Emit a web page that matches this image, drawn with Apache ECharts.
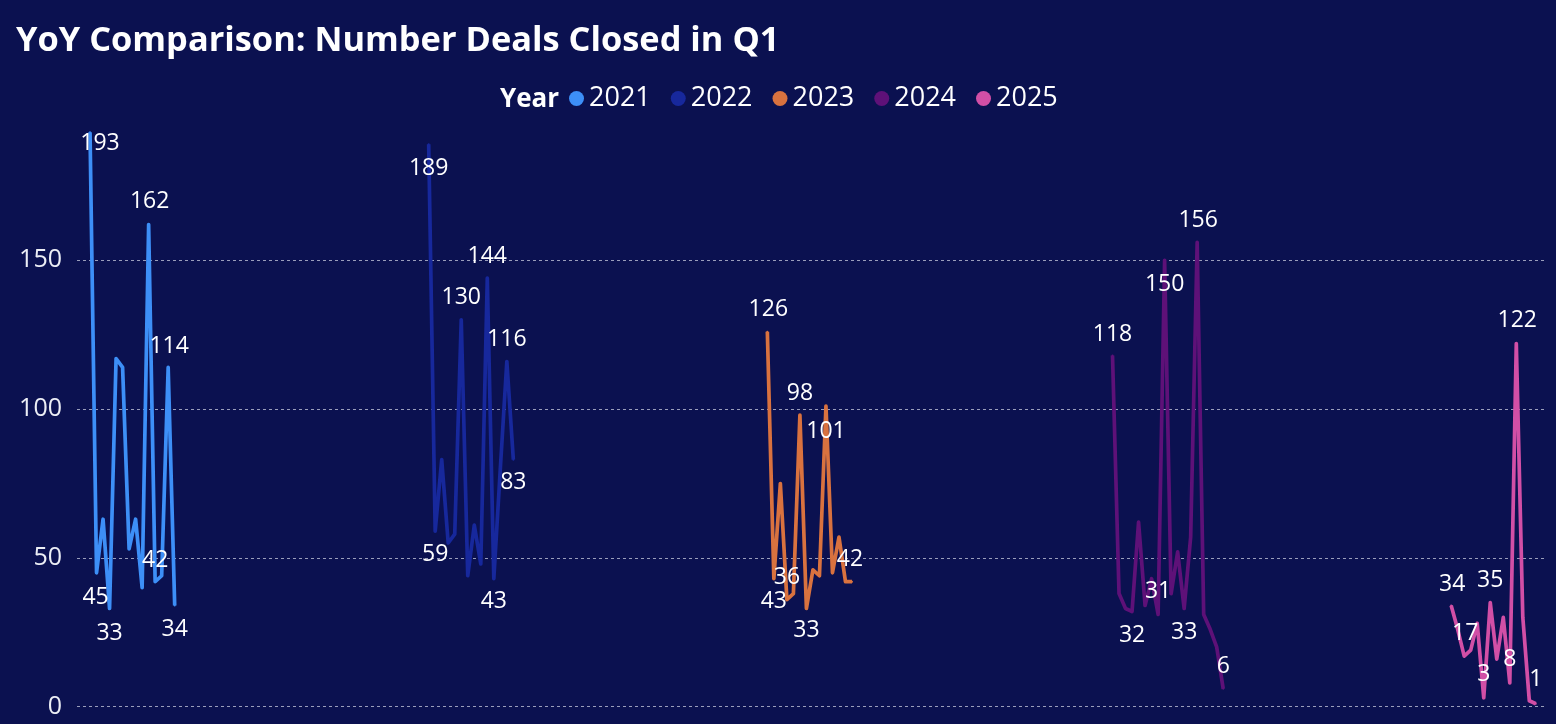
<!DOCTYPE html>
<html>
<head>
<meta charset="utf-8">
<title>YoY Comparison: Number Deals Closed in Q1</title>
<script src="https://cdn.jsdelivr.net/npm/echarts@6/dist/echarts.min.js"></script>
<style>
  html, body { margin: 0; padding: 0; background: #0b1150; }
  #chart { width: 1556px; height: 724px; }
</style>
</head>
<body>
<div id="chart"></div>
<script>
// weekly data points, Q1 of each year
const years = ['2021', '2022', '2023', '2024', '2025'];

const dates2021 = ['2021-01-03', '2021-01-10', '2021-01-17', '2021-01-24', '2021-01-31', '2021-02-07', '2021-02-14',
  '2021-02-21', '2021-02-28', '2021-03-07', '2021-03-14', '2021-03-21', '2021-03-28', '2021-04-04'];
const dates2022 = ['2022-01-02', '2022-01-09', '2022-01-16', '2022-01-23', '2022-01-30', '2022-02-06', '2022-02-13',
  '2022-02-20', '2022-02-27', '2022-03-06', '2022-03-13', '2022-03-20', '2022-03-27', '2022-04-03'];
const dates2023 = ['2023-01-01', '2023-01-08', '2023-01-15', '2023-01-22', '2023-01-29', '2023-02-05', '2023-02-12',
  '2023-02-19', '2023-02-26', '2023-03-05', '2023-03-12', '2023-03-19', '2023-03-26', '2023-04-02'];
const dates2024 = ['2024-01-07', '2024-01-14', '2024-01-21', '2024-01-28', '2024-02-04', '2024-02-11', '2024-02-18',
  '2024-02-25', '2024-03-03', '2024-03-10', '2024-03-17', '2024-03-24', '2024-03-31', '2024-04-07', '2024-04-14',
  '2024-04-21', '2024-04-28', '2024-05-05'];
const dates2025 = ['2025-01-05', '2025-01-12', '2025-01-19', '2025-01-26', '2025-02-02', '2025-02-09', '2025-02-16',
  '2025-02-23', '2025-03-02', '2025-03-09', '2025-03-16', '2025-03-23', '2025-03-30', '2025-04-06'];

const deals2021 = [193, 45, 63, 33, 117, 114, 53, 63, 40, 162, 42, 44, 114, 34];
const deals2022 = [189, 59, 83, 55, 58, 130, 44, 61, 48, 144, 43, 80, 116, 83];
const deals2023 = [126, 43, 75, 36, 38, 98, 33, 46, 44, 101, 45, 57, 42, 42];
const deals2024 = [118, 38, 33, 32, 62, 34, 43, 31, 150, 38, 52, 33, 57, 156, 31, 26, 20, 6];
const deals2025 = [34, 26, 17, 19, 28, 3, 35, 16, 30, 8, 122, 30, 2, 1];

const yTicks = [0, 50, 100, 150];

// which points get a data label: [index, dx, dy] (offset from the point)
const labelSpots = {
  '2021': [[0, 10, 11], [1, -1, 25], [3, 0, 25], [9, 1, -23], [10, 0, -21], [12, 1, -21], [13, 0, 24]],
  '2022': [[0, 0, 24], [1, 0, 23], [5, 0, -22], [9, 0, -22], [10, 0, 23], [12, 0, -22], [13, 0, 23]],
  '2023': [[0, 1, -22], [1, 0, 23], [3, 0, -22], [5, 0, -22], [6, 0, 22], [9, 0, 25], [13, -2, -22]],
  '2024': [[0, 0, -21], [3, 0, 24], [7, 0, -23], [8, 0, 24], [11, 0, 24], [13, 1, -22], [17, 0, -22]],
  '2025': [[0, 1, -21], [2, 1, -23], [5, 0, -23], [6, 0, -22], [9, 0, -23], [10, 1, -23], [13, 0, -24]]
};

const colors = ['#3d8ff7', '#17289c', '#d9723f', '#5e1178', '#d24fa6'];
const allDates = [dates2021, dates2022, dates2023, dates2024, dates2025];
const allDeals = [deals2021, deals2022, deals2023, deals2024, deals2025];

const font = "'Segoe UI', 'Open Sans', sans-serif";

const chart = echarts.init(document.getElementById('chart'));

const series = years.map((y, i) => {
  const spots = {};
  labelSpots[y].forEach(s => { spots[s[0]] = s; });
  const data = allDeals[i].map((v, j) => {
    const item = { value: [allDates[i][j], v] };
    if (spots[j]) {
      item.label = { show: true, position: 'inside', offset: [spots[j][1], spots[j][2]] };
    }
    return item;
  });
  return {
    name: y,
    type: 'line',
    data: data,
    symbol: 'circle',
    symbolSize: 2,
    showSymbol: true,
    lineStyle: { width: 3.7, color: colors[i], join: 'round' },
    itemStyle: { color: colors[i] },
    label: { show: false, color: '#ffffff', fontSize: 23, fontFamily: font },
    emphasis: { disabled: true }
  };
});

const options = {
  backgroundColor: '#0b1150',
  animation: false,
  color: colors,
  title: [
    {
      text: 'YoY Comparison: Number Deals Closed in Q1',
      left: 11, top: 19,
      textStyle: { color: '#ffffff', fontSize: 34.4, fontWeight: 'bold', fontFamily: font }
    },
    {
      text: 'Year',
      left: 495, top: 82,
      textStyle: { color: '#ffffff', fontSize: 26, fontWeight: 'bold', fontFamily: font }
    }
  ],
  legend: {
    data: years,
    left: 569, top: 85,
    padding: 0,
    icon: 'circle',
    itemWidth: 15, itemHeight: 15, itemGap: 20,
    textStyle: { color: '#ffffff', fontSize: 27, fontFamily: font }
  },
  grid: { left: 77, right: 9, top: 111.5, bottom: 17.3, containLabel: false },
  xAxis: {
    type: 'time',
    min: '2020-12-20',
    max: '2025-04-18',
    axisLine: { show: false },
    axisTick: { show: false },
    axisLabel: { show: false },
    splitLine: { show: false }
  },
  yAxis: {
    type: 'value',
    min: 0, max: 200, interval: 50,
    axisLine: { show: false },
    axisTick: { show: false },
    axisLabel: {
      color: '#eceef5', fontSize: 25, fontFamily: font, margin: 15, showMaxLabel: false,
      formatter: v => (yTicks.indexOf(v) >= 0 ? String(v) : '')
    },
    splitLine: {
      show: true, showMaxLine: false,
      lineStyle: { color: 'rgba(190,194,214,0.8)', width: 1, type: [3, 3] }
    }
  },
  series: series
};

chart.setOption(options);
</script>
</body>
</html>
